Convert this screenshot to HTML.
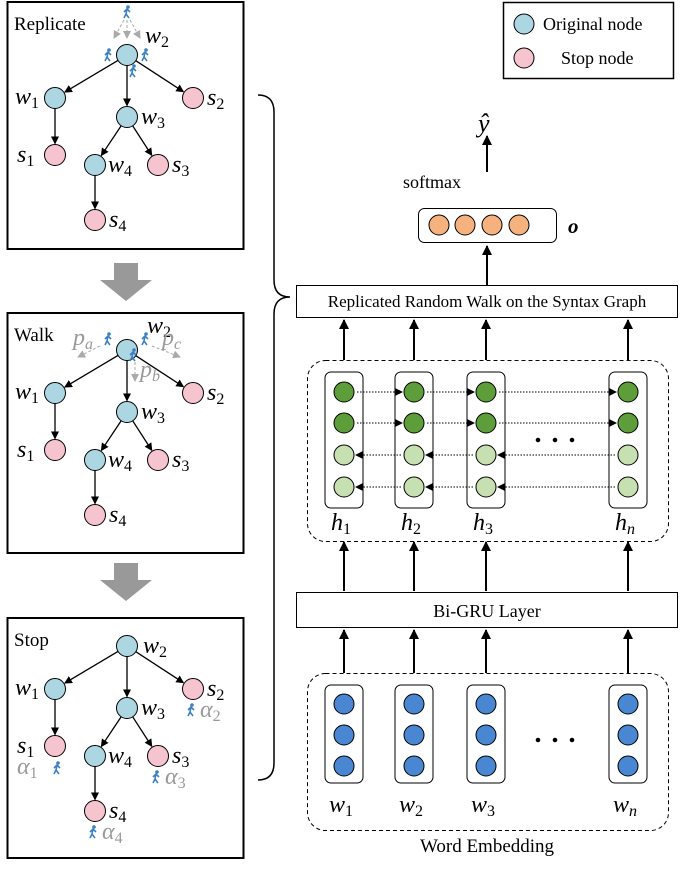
<!DOCTYPE html>
<html><head><meta charset="utf-8"><style>
body{margin:0;background:#fff}
svg text{font-family:"Liberation Serif",serif}
</style></head><body>
<svg id="s" width="685" height="869" xmlns="http://www.w3.org/2000/svg">
<defs>
<marker id="a" markerWidth="10" markerHeight="10" refX="9" refY="5" orient="auto" markerUnits="userSpaceOnUse"><path d="M0,0 L10,5 L0,10z" fill="#000"/></marker>
<marker id="g" markerWidth="8" markerHeight="8" refX="7" refY="4" orient="auto" markerUnits="userSpaceOnUse"><path d="M0,0 L8,4 L0,8z" fill="#aaa"/></marker>
<marker id="sm" markerWidth="8" markerHeight="8" refX="7" refY="4" orient="auto" markerUnits="userSpaceOnUse"><path d="M0,0 L8,4 L0,8z" fill="#000"/></marker>
</defs>
<g id="L"></g>
</svg>
<script>
let out="";
function C(x,y,r,f){out+=`<circle cx="${x}" cy="${y}" r="${r}" fill="${f}" stroke="#000" stroke-width="1"/>`;}
function T(x,y,t,sz,extra){out+=`<text x="${x}" y="${y}" font-size="${sz}" ${extra||""}>${t}</text>`;}
function A(x1,y1,x2,y2,m,extra,w){out+=`<line x1="${x1}" y1="${y1}" x2="${x2}" y2="${y2}" stroke="${m=='g'?'#aaa':'#000'}" stroke-width="${w||(m=='sm'?1:1.4)}" ${extra||""} marker-end="url(#${m||'a'})"/>`;}
function W(x,y){out+=`<g><circle cx="${x+1}" cy="${y-5}" r="1.8" fill="#3d7fc4"/><path d="M${x},${y-3} L${x-1},${y+2} L${x-3},${y+6} M${x-1},${y+2} L${x+2},${y+6} M${x-3},${y} L${x},${y-3} L${x+3},${y}" stroke="#3d7fc4" stroke-width="1.6" fill="none"/></g>`;}
function lab(x,y,b,s,col){out+=`<text x="${x}" y="${y}" font-size="24" fill="${col||'#000'}"><tspan font-style="italic">${b}</tspan><tspan font-size="16" dy="4" ${s=='n'||s=='a'||s=='b'||s=='c'?'font-style="italic"':''}>${s}</tspan></text>`;}
const BL="#acd7e2",PK="#f6c4ce";
function tree(oy,top,title,mode){
 out+=`<rect x="7.5" y="${top}" width="236" height="${mode==0?247:240}" fill="none" stroke="#000" stroke-width="2"/>`;
 T(14,top+28,title,19);
 const n={w2:[127,55],w1:[55,98],s2:[193,98],w3:[127,117],s1:[55,155],w4:[95,165],s3:[158,165],s4:[95,220]};
 for(const k in n)n[k]=[n[k][0],n[k][1]+oy];
 const r=10.5;
 function e(a,b){const [x1,y1]=n[a],[x2,y2]=n[b];const dx=x2-x1,dy=y2-y1,d=Math.hypot(dx,dy);A(x1+dx/d*r,y1+dy/d*r,x2-dx/d*(r+1),y2-dy/d*(r+1),'sm','',1.3);}
 e('w2','w1');e('w2','w3');e('w2','s2');e('w1','s1');e('w3','w4');e('w3','s3');e('w4','s4');
 for(const k in n)C(n[k][0],n[k][1],r,k[0]=='w'?BL:PK);
 const w2=n.w2;
 if(mode==2)lab(w2[0]+16,w2[1]+7,'w','2');
 else if(mode==0)lab(w2[0]+18,w2[1]-12,'w','2');
 else lab(w2[0]+20,w2[1]-17,'w','2');
 lab(n.w1[0]-40,n.w1[1]+6,'w','1');
 lab(n.s1[0]-38,n.s1[1]+7,'s','1');
 lab(n.w3[0]+14,n.w3[1]+7,'w','3');
 lab(n.w4[0]+13,n.w4[1]+7,'w','4');
 lab(n.s2[0]+14,n.s2[1]+7,'s','2');
 lab(n.s3[0]+14,n.s3[1]+7,'s','3');
 lab(n.s4[0]+14,n.s4[1]+7,'s','4');
 if(mode==0){
  W(127,oy+12);
  out+=`<g stroke-dasharray="3,2">`;A(124,oy+20,114,oy+38,'g','',1);A(127,oy+20,127,oy+38,'g','',1);A(130,oy+20,140,oy+38,'g','',1);out+=`</g>`;
  W(108,oy+55);W(145,oy+55);W(133,oy+71);
 }
 if(mode==1){
  W(108,oy+44);W(145,oy+44);W(133,oy+60);
  out+=`<g stroke-dasharray="3,2">`;A(100,oy+51,78,oy+62,'g','',1);A(135,oy+67,135,oy+86,'g','',1);A(152,oy+51,180,oy+62,'g','',1);out+=`</g>`;
  lab(73,oy+50,'p','a','#999');lab(162,oy+50,'p','c','#999');lab(140,oy+82,'p','b','#999');
 }
 if(mode==2){
  lab(n.s1[0]-38,n.s1[1]+28,'α','1','#999');W(n.s1[0]+2,n.s1[1]+22);
  W(n.s2[0]-2,n.s2[1]+21);lab(n.s2[0]+7,n.s2[1]+28,'α','2','#999');
  W(n.s3[0]-2,n.s3[1]+21);lab(n.s3[0]+7,n.s3[1]+28,'α','3','#999');
  W(n.s4[0]-2,n.s4[1]+21);lab(n.s4[0]+7,n.s4[1]+28,'α','4','#999');
 }
}
tree(0,2,'Replicate',0);
tree(295,313,'Walk',1);
tree(591,618,'Stop',2);
function GA(y){out+=`<path d="M114,${y} L138,${y} L138,${y+17} L152,${y+17} L126,${y+38} L100,${y+17} L114,${y+17}z" fill="#999"/>`;}
GA(263);GA(563);
out+=`<path d="M258,95 Q274,95 274,112 L274,280 Q274,297 290,297 Q274,297 274,314 L274,763 Q274,780 258,780" fill="none" stroke="#000" stroke-width="1.5"/>`;
out+=`<rect x="503.5" y="2.5" width="170" height="76" fill="#fff" stroke="#000" stroke-width="1.5"/>`;
C(524,24,10,BL);T(543,30,'Original node',18);C(524,58,10,PK);T(561,64,'Stop node',18);
T(478,132,'ŷ',26,'font-style="italic"');
A(487,172,487,136,'a','',2);
T(403,188,'softmax',18);
out+=`<rect x="418.5" y="208.5" width="138" height="34" rx="6" fill="#fff" stroke="#000"/>`;
[439,465,492,519].forEach(x=>C(x,225,10,'#f6b27e'));
T(568,233,'o',21,'font-weight="bold" font-style="italic"');
A(487,285,487,246,'a','',2);
out+=`<rect x="296.5" y="285.5" width="381" height="32" fill="#fff" stroke="#000"/>`;
T(487,307,'Replicated Random Walk on the Syntax Graph',17,'text-anchor="middle"');
const xs=[344,414,486,628];
xs.forEach(x=>A(x,360,x,320,'a','',2));
out+=`<rect x="307.5" y="360.5" width="361" height="181" rx="18" fill="none" stroke="#000" stroke-dasharray="4,3"/>`;
xs.forEach((x,i)=>{out+=`<rect x="${x-19}" y="372" width="38" height="136" rx="6" fill="#fff" stroke="#000"/>`;
 [392,423,455,487].forEach((y,j)=>C(x,y,10,j<2?'#5e9e3a':'#c6e0b2'));
 lab(x-13,530,'h',['1','2','3','n'][i]);});
for(let i=0;i<3;i++){const a=xs[i]+11,b=xs[i+1]-11;
 [392,423].forEach(y=>A(a+2,y,b-1,y,'sm','stroke-dasharray="1.5,1.5"'));
 [455,487].forEach(y=>A(b-2,y,a+1,y,'sm','stroke-dasharray="1.5,1.5"'));}
[538,555,572].forEach(x=>C(x,440,1.8,'#000'));
xs.forEach(x=>A(x,591,x,542,'a','',2));
out+=`<rect x="296.5" y="592.5" width="381" height="35" fill="#fff" stroke="#000"/>`;
T(487,617,'Bi-GRU Layer',18,'text-anchor="middle"');
xs.forEach(x=>A(x,673,x,630,'a','',2));
out+=`<rect x="307.5" y="673.5" width="361" height="157" rx="18" fill="none" stroke="#000" stroke-dasharray="4,3"/>`;
xs.forEach((x,i)=>{out+=`<rect x="${x-19}" y="685" width="38" height="98" rx="6" fill="#fff" stroke="#000"/>`;
 [704,735,766].forEach(y=>C(x,y,10,'#4a87d3'));
 lab(x-15,812,'w',['1','2','3','n'][i]);});
[538,555,572].forEach(x=>C(x,740,1.8,'#000'));
T(487,852,'Word Embedding',19,'text-anchor="middle"');
document.getElementById('L').innerHTML=out;
</script>
</body></html>
